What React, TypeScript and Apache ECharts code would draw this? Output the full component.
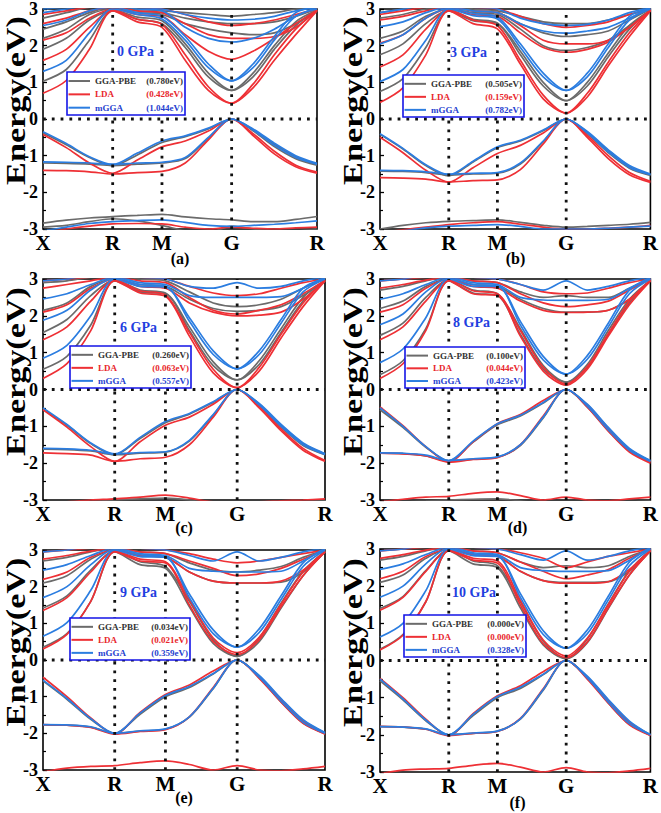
import React, { useEffect, useRef } from "react";
import * as echarts from "echarts";

// k-path distances (X-R-M-G-R) and band energies (eV) sampled on it
const K = [0, 0.236, 0.471, 0.707, 0.957, 1.207, 1.443, 1.678, 1.914, 2.131, 2.347, 2.564, 2.78];
const SYM_K = [0, 0.707, 1.207, 1.914, 2.78];
const SYM_LABELS = ["X", "R", "M", "G", "R"];
const PANEL_TAGS = ["(a)", "(b)", "(c)", "(d)", "(e)", "(f)"];
const PRESSURES = ["0 GPa", "3 GPa", "6 GPa", "8 GPa", "9 GPa", "10 GPa"];
const METHODS = ["GGA-PBE", "LDA", "mGGA"];
const GAP_GGA = ["0.780", "0.505", "0.260", "0.100", "0.034", "0.000"];
const GAP_LDA = ["0.428", "0.159", "0.063", "0.044", "0.021", "0.000"];
const GAP_MGGA = ["1.044", "0.782", "0.557", "0.423", "0.359", "0.328"];

// ---- 0 GPa ----
const P0_GGA = [
  [-0.38, -0.7, -1.05, -1.27, -0.98, -0.64, -0.48, -0.27, 0, -0.32, -0.75, -1.08, -1.26],
  [-1.2, -1.21, -1.23, -1.27, -1.23, -1.2, -1.08, -0.52, 0, -0.29, -0.69, -1.03, -1.24],
  [-2.84, -2.76, -2.7, -2.66, -2.63, -2.6, -2.67, -2.72, -2.75, -2.8, -2.8, -2.74, -2.66],
  [-2.95, -2.9, -2.8, -2.72, -2.78, -2.9, -3.05, -3.1, -2.92, -3.0, -3.05, -3.05, -3.0],
  [1.03, 1.35, 2.15, 2.95, 2.72, 2.6, 1.95, 1.15, 0.78, 1.15, 1.9, 2.55, 2.97],
  [1.9, 2.2, 2.7, 2.97, 2.78, 2.68, 2.05, 1.25, 0.78, 1.25, 2.0, 2.65, 2.97],
  [2.2, 2.45, 2.85, 3.0, 2.9, 2.85, 2.6, 2.45, 2.35, 2.3, 2.35, 2.6, 2.95],
  [2.45, 2.65, 2.9, 3.05, 2.95, 2.9, 2.75, 2.65, 2.6, 2.6, 2.65, 2.8, 3.0],
  [2.75, 2.9, 3.05, 3.1, 3.0, 2.95, 2.9, 2.85, 2.8, 2.85, 2.9, 3.0, 3.05],
];
const P0_LDA = [
  [-0.42, -0.78, -1.2, -1.48, -1.12, -0.76, -0.6, -0.33, 0, -0.45, -0.95, -1.3, -1.48],
  [-1.4, -1.41, -1.44, -1.5, -1.46, -1.43, -1.2, -0.57, 0, -0.4, -0.88, -1.26, -1.45],
  [-3.1, -3.0, -2.92, -2.86, -2.85, -2.86, -2.95, -3.0, -2.95, -2.98, -3.0, -2.97, -2.95],
  [0.7, 1.05, 1.9, 2.95, 2.65, 2.5, 1.6, 0.78, 0.43, 0.85, 1.6, 2.3, 2.95],
  [1.6, 1.9, 2.5, 2.97, 2.72, 2.58, 1.75, 0.88, 0.43, 0.95, 1.75, 2.45, 2.97],
  [2.15, 2.35, 2.75, 3.0, 2.85, 2.8, 2.3, 1.85, 1.63, 1.85, 2.2, 2.6, 2.97],
  [2.6, 2.75, 2.95, 3.05, 2.95, 2.9, 2.6, 2.3, 2.2, 2.2, 2.25, 2.5, 2.97],
  [2.85, 2.95, 3.05, 3.1, 3.05, 3.0, 2.85, 2.65, 2.55, 2.6, 2.7, 2.85, 3.0],
];
const P0_MGGA = [
  [-0.35, -0.67, -1.03, -1.24, -0.93, -0.6, -0.46, -0.25, 0, -0.3, -0.72, -1.05, -1.23],
  [-1.17, -1.18, -1.2, -1.24, -1.2, -1.18, -1.05, -0.5, 0, -0.27, -0.66, -1.0, -1.21],
  [-3.05, -2.95, -2.85, -2.8, -2.77, -2.75, -2.82, -2.9, -2.93, -2.9, -2.87, -2.83, -2.78],
  [1.3, 1.6, 2.35, 3.0, 2.85, 2.73, 2.15, 1.4, 1.04, 1.4, 2.15, 2.8, 3.0],
  [2.55, 2.7, 2.95, 3.05, 2.9, 2.8, 2.25, 1.5, 1.04, 1.5, 2.25, 2.9, 3.05],
  [2.9, 3.0, 3.1, 3.1, 3.0, 2.95, 2.5, 2.2, 2.1, 2.2, 2.45, 2.8, 3.05],
  [3.0, 3.05, 3.1, 3.1, 3.05, 3.0, 2.85, 2.75, 2.7, 2.72, 2.8, 2.95, 3.05],
];

// ---- 3 GPa ----
const P3_GGA = [
  [-0.42, -0.82, -1.27, -1.55, -1.17, -0.78, -0.6, -0.32, 0, -0.4, -0.92, -1.34, -1.54],
  [-1.42, -1.43, -1.46, -1.53, -1.5, -1.48, -1.23, -0.62, 0, -0.36, -0.86, -1.3, -1.52],
  [-3.0, -2.9, -2.83, -2.79, -2.77, -2.75, -2.82, -2.9, -2.95, -2.93, -2.9, -2.87, -2.82],
  [0.75, 1.1, 1.95, 2.95, 2.68, 2.6, 1.75, 0.9, 0.5, 0.9, 1.7, 2.45, 2.97],
  [1.75, 2.05, 2.6, 2.97, 2.72, 2.62, 1.85, 1.0, 0.5, 1.0, 1.8, 2.55, 2.97],
  [2.2, 2.4, 2.8, 3.0, 2.9, 2.85, 2.45, 2.0, 1.87, 1.95, 2.15, 2.55, 2.95],
  [2.75, 2.85, 3.0, 3.05, 2.95, 2.9, 2.6, 2.35, 2.25, 2.3, 2.4, 2.7, 3.0],
  [2.9, 3.0, 3.1, 3.1, 3.0, 2.95, 2.8, 2.65, 2.6, 2.6, 2.7, 2.85, 3.0],
];
const P3_LDA = [
  [-0.5, -0.92, -1.4, -1.72, -1.33, -0.94, -0.72, -0.38, 0, -0.5, -1.08, -1.52, -1.73],
  [-1.6, -1.61, -1.64, -1.72, -1.68, -1.66, -1.38, -0.68, 0, -0.45, -1.0, -1.46, -1.7],
  [-3.1, -3.02, -2.95, -2.88, -2.83, -2.8, -2.87, -2.95, -3.0, -3.0, -2.98, -2.95, -2.9],
  [0.45, 0.85, 1.75, 2.95, 2.6, 2.46, 1.5, 0.55, 0.16, 0.6, 1.45, 2.25, 2.95],
  [1.42, 1.75, 2.45, 2.97, 2.7, 2.55, 1.6, 0.65, 0.16, 0.7, 1.55, 2.35, 2.97],
  [2.07, 2.3, 2.75, 3.0, 2.85, 2.8, 2.35, 1.95, 1.82, 1.9, 2.1, 2.5, 2.97],
  [2.7, 2.8, 2.95, 3.05, 2.95, 2.9, 2.55, 2.15, 2.05, 2.05, 2.15, 2.5, 2.97],
  [2.85, 2.95, 3.05, 3.1, 3.05, 3.0, 2.8, 2.6, 2.5, 2.55, 2.65, 2.85, 3.0],
];
const P3_MGGA = [
  [-0.4, -0.8, -1.25, -1.52, -1.15, -0.76, -0.58, -0.3, 0, -0.38, -0.9, -1.32, -1.52],
  [-1.4, -1.41, -1.44, -1.5, -1.48, -1.46, -1.2, -0.6, 0, -0.34, -0.84, -1.27, -1.5],
  [-3.1, -3.05, -2.97, -2.92, -2.9, -2.88, -2.93, -3.0, -3.0, -3.0, -2.98, -2.95, -2.92],
  [1.02, 1.35, 2.15, 3.0, 2.82, 2.73, 1.95, 1.15, 0.78, 1.15, 1.95, 2.7, 3.0],
  [2.05, 2.3, 2.75, 3.02, 2.88, 2.78, 2.05, 1.25, 0.78, 1.25, 2.05, 2.8, 3.02],
  [2.52, 2.65, 2.9, 3.05, 2.95, 2.9, 2.6, 2.4, 2.34, 2.4, 2.5, 2.75, 3.05],
  [2.9, 3.0, 3.1, 3.1, 3.05, 3.0, 2.75, 2.6, 2.55, 2.58, 2.7, 2.9, 3.05],
];

// ---- 6 GPa ----
const P6_GGA = [
  [-0.52, -0.97, -1.47, -1.77, -1.33, -0.9, -0.67, -0.35, 0, -0.44, -1.02, -1.52, -1.77],
  [-1.62, -1.63, -1.67, -1.77, -1.73, -1.7, -1.4, -0.7, 0, -0.4, -0.97, -1.47, -1.75],
  [-3.15, -3.1, -3.05, -3.0, -2.97, -2.95, -3.0, -3.1, -3.1, -3.1, -3.1, -3.05, -3.02],
  [0.55, 0.9, 1.75, 2.95, 2.65, 2.6, 1.6, 0.65, 0.26, 0.68, 1.55, 2.4, 2.97],
  [1.55, 1.9, 2.55, 2.97, 2.7, 2.62, 1.7, 0.75, 0.26, 0.78, 1.65, 2.5, 2.97],
  [2.15, 2.35, 2.8, 3.0, 2.85, 2.8, 2.45, 2.2, 2.12, 2.15, 2.25, 2.55, 2.95],
  [2.9, 2.95, 3.05, 3.1, 3.0, 2.95, 2.65, 2.35, 2.25, 2.3, 2.45, 2.75, 3.0],
];
const P6_LDA = [
  [-0.55, -1.02, -1.55, -1.95, -1.42, -0.97, -0.75, -0.4, 0, -0.5, -1.12, -1.65, -1.95],
  [-1.72, -1.74, -1.78, -1.95, -1.88, -1.84, -1.5, -0.75, 0, -0.46, -1.07, -1.6, -1.93],
  [-3.1, -3.05, -3.0, -2.97, -2.92, -2.87, -2.95, -3.05, -3.05, -3.05, -3.02, -3.0, -2.97],
  [0.3, 0.7, 1.6, 2.95, 2.62, 2.53, 1.45, 0.45, 0.05, 0.5, 1.4, 2.25, 2.95],
  [1.35, 1.7, 2.4, 2.97, 2.68, 2.57, 1.55, 0.55, 0.05, 0.6, 1.5, 2.35, 2.97],
  [2.1, 2.3, 2.75, 3.0, 2.8, 2.75, 2.35, 2.1, 2.0, 2.02, 2.1, 2.45, 2.95],
  [2.75, 2.85, 2.95, 3.05, 2.95, 2.9, 2.5, 2.15, 2.05, 2.15, 2.3, 2.6, 2.97],
  [2.95, 3.0, 3.05, 3.1, 3.05, 3.0, 2.8, 2.62, 2.55, 2.6, 2.75, 2.9, 3.0],
];
const P6_MGGA = [
  [-0.5, -0.95, -1.45, -1.75, -1.3, -0.87, -0.65, -0.33, 0, -0.42, -1.0, -1.5, -1.76],
  [-1.6, -1.61, -1.65, -1.75, -1.71, -1.69, -1.38, -0.68, 0, -0.38, -0.95, -1.45, -1.74],
  [0.85, 1.2, 2.0, 3.0, 2.8, 2.78, 1.85, 0.95, 0.56, 0.95, 1.8, 2.65, 3.0],
  [1.88, 2.15, 2.7, 3.02, 2.85, 2.8, 1.95, 1.05, 0.56, 1.05, 1.9, 2.75, 3.02],
  [2.46, 2.6, 2.85, 3.05, 2.9, 2.85, 2.55, 2.5, 2.5, 2.5, 2.52, 2.75, 3.05],
  [2.95, 3.0, 3.1, 3.1, 3.05, 3.0, 2.8, 2.75, 2.9, 2.75, 2.8, 2.95, 3.05],
];

// ---- 8 GPa ----
const P8_GGA = [
  [-0.55, -1.03, -1.57, -1.94, -1.43, -0.96, -0.72, -0.37, 0, -0.47, -1.12, -1.67, -1.96],
  [-1.73, -1.74, -1.8, -1.94, -1.89, -1.84, -1.52, -0.77, 0, -0.42, -1.05, -1.62, -1.94],
  [-3.1, -3.06, -3.03, -3.0, -2.98, -2.97, -3.02, -3.1, -3.05, -3.1, -3.1, -3.06, -3.03],
  [0.4, 0.78, 1.65, 2.95, 2.62, 2.55, 1.5, 0.55, 0.2, 0.6, 1.5, 2.35, 2.97],
  [1.47, 1.8, 2.5, 2.97, 2.7, 2.6, 1.65, 0.65, 0.2, 0.68, 1.6, 2.45, 2.97],
  [2.2, 2.4, 2.8, 3.0, 2.85, 2.8, 2.45, 2.2, 2.1, 2.1, 2.15, 2.45, 2.95],
  [2.7, 2.8, 2.95, 3.05, 2.95, 2.9, 2.65, 2.5, 2.55, 2.5, 2.5, 2.75, 3.0],
];
const P8_LDA = [
  [-0.47, -0.98, -1.55, -1.97, -1.42, -0.93, -0.68, -0.3, 0, -0.48, -1.13, -1.7, -2.0],
  [-1.73, -1.75, -1.8, -1.97, -1.9, -1.85, -1.5, -0.72, 0, -0.42, -1.07, -1.65, -1.97],
  [-3.05, -2.98, -2.92, -2.9, -2.82, -2.78, -2.88, -3.0, -2.92, -3.0, -3.02, -2.97, -2.92],
  [0.3, 0.7, 1.6, 2.95, 2.6, 2.55, 1.45, 0.5, 0.12, 0.55, 1.45, 2.3, 2.95],
  [1.35, 1.7, 2.4, 2.97, 2.68, 2.6, 1.6, 0.6, 0.15, 0.62, 1.52, 2.4, 2.97],
  [2.1, 2.3, 2.75, 3.0, 2.8, 2.75, 2.4, 2.15, 2.09, 2.1, 2.15, 2.45, 2.95],
  [2.75, 2.85, 2.97, 3.05, 2.95, 2.9, 2.6, 2.35, 2.25, 2.3, 2.4, 2.7, 3.0],
  [2.95, 3.0, 3.05, 3.1, 3.05, 3.0, 2.85, 2.65, 2.6, 2.62, 2.75, 2.9, 3.0],
];
const P8_MGGA = [
  [-0.5, -1.0, -1.55, -1.93, -1.4, -0.93, -0.7, -0.35, 0, -0.45, -1.1, -1.65, -1.95],
  [-1.72, -1.73, -1.78, -1.93, -1.88, -1.83, -1.5, -0.75, 0, -0.4, -1.03, -1.6, -1.93],
  [0.73, 1.1, 1.95, 3.0, 2.8, 2.8, 1.75, 0.8, 0.42, 0.82, 1.7, 2.6, 3.0],
  [1.76, 2.05, 2.65, 3.02, 2.85, 2.82, 1.85, 0.9, 0.42, 0.92, 1.8, 2.7, 3.02],
  [2.45, 2.6, 2.85, 3.05, 2.9, 2.85, 2.5, 2.43, 2.42, 2.42, 2.45, 2.75, 3.05],
  [2.95, 3.0, 3.1, 3.1, 3.05, 3.0, 2.85, 2.7, 2.95, 2.7, 2.8, 2.95, 3.05],
];

// ---- 9 GPa ----
const P9_GGA = [
  [-0.57, -1.07, -1.62, -2.0, -1.48, -1.0, -0.75, -0.38, 0, -0.48, -1.14, -1.72, -2.0],
  [-1.77, -1.78, -1.83, -2.0, -1.94, -1.89, -1.56, -0.78, 0, -0.44, -1.07, -1.65, -1.99],
  [0.35, 0.72, 1.6, 2.95, 2.6, 2.5, 1.45, 0.45, 0.1, 0.5, 1.42, 2.3, 2.97],
  [1.42, 1.75, 2.45, 2.97, 2.68, 2.55, 1.6, 0.55, 0.1, 0.6, 1.55, 2.42, 2.97],
  [2.1, 2.3, 2.75, 3.0, 2.85, 2.8, 2.4, 2.15, 2.1, 2.1, 2.12, 2.4, 2.95],
  [2.7, 2.8, 2.95, 3.05, 2.95, 2.9, 2.65, 2.45, 2.4, 2.45, 2.55, 2.8, 3.0],
];
const P9_LDA = [
  [-0.47, -1.0, -1.58, -2.02, -1.43, -0.94, -0.68, -0.3, 0, -0.5, -1.15, -1.73, -2.02],
  [-1.76, -1.78, -1.84, -2.02, -1.95, -1.9, -1.55, -0.75, 0, -0.45, -1.08, -1.68, -2.02],
  [-3.05, -2.95, -2.9, -2.88, -2.8, -2.75, -2.85, -3.0, -2.88, -3.0, -3.02, -2.97, -2.9],
  [0.3, 0.7, 1.6, 2.95, 2.7, 2.65, 1.5, 0.5, 0.15, 0.55, 1.45, 2.3, 2.95],
  [1.35, 1.7, 2.4, 2.97, 2.75, 2.68, 1.65, 0.6, 0.2, 0.62, 1.52, 2.4, 2.97],
  [2.2, 2.4, 2.8, 3.0, 2.85, 2.8, 2.4, 2.15, 2.1, 2.1, 2.15, 2.45, 2.95],
  [2.75, 2.85, 2.97, 3.05, 2.95, 2.9, 2.7, 2.5, 2.3, 2.35, 2.5, 2.75, 3.0],
  [2.95, 3.0, 3.05, 3.1, 3.05, 3.0, 2.9, 2.75, 2.65, 2.7, 2.8, 2.9, 3.0],
];
const P9_MGGA = [
  [-0.55, -1.05, -1.6, -2.0, -1.45, -0.97, -0.72, -0.37, 0, -0.47, -1.12, -1.7, -2.0],
  [-1.76, -1.77, -1.82, -2.0, -1.93, -1.88, -1.55, -0.77, 0, -0.42, -1.05, -1.63, -1.98],
  [0.65, 1.02, 1.9, 3.0, 2.82, 2.8, 1.7, 0.72, 0.35, 0.75, 1.65, 2.55, 3.0],
  [1.7, 2.0, 2.6, 3.02, 2.87, 2.82, 1.8, 0.82, 0.35, 0.85, 1.75, 2.65, 3.02],
  [2.45, 2.6, 2.85, 3.05, 2.9, 2.85, 2.5, 2.42, 2.4, 2.4, 2.42, 2.7, 3.05],
  [2.95, 3.0, 3.1, 3.1, 3.05, 3.0, 2.85, 2.7, 2.95, 2.7, 2.8, 2.95, 3.05],
];

// ---- 10 GPa ----
const P10_GGA = [
  [-0.55, -1.06, -1.62, -2.0, -1.48, -1.0, -0.75, -0.38, 0, -0.48, -1.14, -1.72, -2.0],
  [-1.78, -1.79, -1.85, -2.0, -1.96, -1.9, -1.58, -0.8, 0, -0.44, -1.07, -1.65, -2.0],
  [0.3, 0.7, 1.58, 2.95, 2.6, 2.5, 1.42, 0.42, 0.05, 0.48, 1.4, 2.3, 2.97],
  [1.4, 1.72, 2.42, 2.97, 2.68, 2.55, 1.58, 0.52, 0.05, 0.58, 1.52, 2.42, 2.97],
  [2.1, 2.3, 2.75, 3.0, 2.85, 2.8, 2.4, 2.15, 2.1, 2.1, 2.12, 2.4, 2.95],
  [2.7, 2.8, 2.95, 3.05, 2.95, 2.9, 2.65, 2.5, 2.55, 2.5, 2.55, 2.8, 3.0],
];
const P10_LDA = [
  [-0.48, -1.0, -1.58, -2.02, -1.43, -0.95, -0.68, -0.3, 0, -0.5, -1.15, -1.73, -2.02],
  [-1.77, -1.79, -1.85, -2.02, -1.96, -1.91, -1.56, -0.76, 0, -0.45, -1.08, -1.68, -2.02],
  [-3.05, -2.95, -2.92, -2.9, -2.82, -2.77, -2.87, -3.0, -2.88, -3.0, -3.02, -2.97, -2.9],
  [0.28, 0.68, 1.58, 2.95, 2.7, 2.62, 1.5, 0.45, 0.08, 0.5, 1.42, 2.3, 2.95],
  [1.35, 1.7, 2.4, 2.97, 2.75, 2.68, 1.62, 0.55, 0.12, 0.6, 1.5, 2.4, 2.97],
  [2.2, 2.4, 2.8, 3.0, 2.85, 2.8, 2.4, 2.15, 2.08, 2.08, 2.12, 2.45, 2.95],
  [2.75, 2.85, 2.97, 3.05, 2.95, 2.9, 2.65, 2.4, 2.2, 2.3, 2.45, 2.75, 3.0],
  [2.95, 3.0, 3.05, 3.1, 3.05, 3.0, 2.9, 2.75, 2.5, 2.65, 2.8, 2.9, 3.0],
];
const P10_MGGA = [
  [-0.5, -1.03, -1.6, -2.0, -1.45, -0.97, -0.72, -0.37, 0, -0.47, -1.12, -1.7, -2.0],
  [-1.78, -1.79, -1.84, -2.0, -1.95, -1.9, -1.57, -0.78, 0, -0.42, -1.05, -1.63, -2.0],
  [0.63, 1.0, 1.88, 3.0, 2.82, 2.8, 1.7, 0.7, 0.33, 0.72, 1.63, 2.55, 3.0],
  [1.7, 2.0, 2.6, 3.02, 2.87, 2.82, 1.8, 0.8, 0.33, 0.82, 1.73, 2.65, 3.02],
  [2.45, 2.6, 2.85, 3.05, 2.9, 2.85, 2.5, 2.42, 2.4, 2.4, 2.42, 2.7, 3.05],
  [2.95, 3.0, 3.1, 3.1, 3.05, 3.0, 2.85, 2.7, 2.95, 2.7, 2.8, 2.95, 3.05],
];

const BANDS = [
  [P0_GGA, P0_LDA, P0_MGGA],
  [P3_GGA, P3_LDA, P3_MGGA],
  [P6_GGA, P6_LDA, P6_MGGA],
  [P8_GGA, P8_LDA, P8_MGGA],
  [P9_GGA, P9_LDA, P9_MGGA],
  [P10_GGA, P10_LDA, P10_MGGA],
];

// ---- presentation ----
const FONT = '"Liberation Serif", "Times New Roman", serif';
const LINE_COLORS = ["#6b6b6b", "#ee3035", "#2b7de0"];
const TEXT_COLORS = ["#333333", "#e8262b", "#1f3fcf"];
const LAYOUT = [
  { grid: [43, 8, 274, 221], box: [67, 72, 118, 43], press: [117, 51], tagY: 258 },
  { grid: [380, 8, 271, 221], box: [403, 75, 121, 42], press: [450, 52], tagY: 258 },
  { grid: [43, 279, 282, 221], box: [70, 346, 121, 42], press: [120, 327], tagY: 527 },
  { grid: [380, 279, 275, 221], box: [405, 347, 120, 41], press: [453, 322], tagY: 527 },
  { grid: [43, 550, 282, 220], box: [70, 618, 120, 42], press: [120, 592], tagY: 797 },
  { grid: [380, 549, 275, 223], box: [404, 615, 122, 42], press: [452, 592], tagY: 802 },
];

function buildOption() {
  const grids: any[] = [];
  const xAxes: any[] = [];
  const yAxes: any[] = [];
  const series: any[] = [];
  const graphics: any[] = [];

  LAYOUT.forEach((L, i) => {
    const [gl, gt, gw, gh] = L.grid;
    grids.push({
      left: gl, top: gt, width: gw, height: gh,
      show: true, borderColor: "#000", borderWidth: 1.6, backgroundColor: "transparent",
    });
    xAxes.push({
      type: "value", gridIndex: i, min: 0, max: K[K.length - 1],
      axisLine: { show: false }, axisTick: { show: false }, splitLine: { show: false },
      axisLabel: {
        customValues: SYM_K, showMinLabel: true, showMaxLabel: true, margin: 3,
        formatter: (v: number) => {
          let best = 0;
          SYM_K.forEach((s, j) => { if (Math.abs(s - v) < Math.abs(SYM_K[best] - v)) best = j; });
          return SYM_LABELS[best];
        },
        color: "#000", fontFamily: FONT, fontWeight: "bold", fontSize: 21,
      },
    });
    yAxes.push({
      type: "value", gridIndex: i, min: -3, max: 3, interval: 1,
      axisLine: { show: false },
      axisTick: { show: true, inside: true, length: 4, lineStyle: { color: "#000", width: 1.3 } },
      minorTick: { show: true, splitNumber: 2, length: 3, lineStyle: { color: "#000", width: 1.2 } },
      splitLine: { show: false },
      axisLabel: { color: "#000", fontFamily: FONT, fontWeight: "bold", fontSize: 18, margin: 5 },
    });

    BANDS[i].forEach((set, f) => {
      set.forEach((band) => {
        series.push({
          type: "line", xAxisIndex: i, yAxisIndex: i, showSymbol: false, symbol: "none",
          smooth: 0.3, clip: true, silent: true, z: 2 + f * 0.1,
          lineStyle: { color: LINE_COLORS[f], width: 1.7 },
          data: K.map((k, j) => [k, band[j]]),
        });
      });
    });

    [SYM_K[1], SYM_K[2], SYM_K[3]].forEach((k) => {
      series.push({
        type: "line", xAxisIndex: i, yAxisIndex: i, symbol: "none", silent: true, z: 4,
        lineStyle: { color: "#111", width: 2.8, type: [2.8, 6] },
        data: [[k, -3], [k, 3]],
      });
    });
    series.push({
      type: "line", xAxisIndex: i, yAxisIndex: i, symbol: "none", silent: true, z: 4,
      lineStyle: { color: "#111", width: 2.8, type: [2.8, 6] },
      data: [[0, 0], [K[K.length - 1], 0]],
    });

    // y axis title
    graphics.push({
      type: "text", x: gl - 27, y: gt + gh / 2 - 18, rotation: Math.PI / 2, scaleX: 1.22, z: 1,
      style: {
        text: "Energy(eV)", font: `bold 28px ${FONT}`, fill: "#000",
        align: "center", verticalAlign: "middle", textAlign: "center", textVerticalAlign: "middle",
      },
    });
    // panel tag
    graphics.push({
      type: "text", x: gl + gw / 2, y: L.tagY, z: 100,
      style: {
        text: PANEL_TAGS[i], font: `bold 16px ${FONT}`, fill: "#000",
        align: "center", verticalAlign: "middle", textAlign: "center", textVerticalAlign: "middle",
      },
    });
    // pressure
    graphics.push({
      type: "text", x: L.press[0], y: L.press[1], z: 100,
      style: {
        text: PRESSURES[i], font: `bold 14px ${FONT}`, fill: "#1f3fe0",
        align: "left", verticalAlign: "middle", textAlign: "left", textVerticalAlign: "middle",
      },
    });
    // legend box
    const [bx, by, bw, bh] = L.box;
    const gaps = [GAP_GGA[i], GAP_LDA[i], GAP_MGGA[i]];
    graphics.push({
      type: "rect", x: bx, y: by, z: 100, shape: { x: 0, y: 0, width: bw, height: bh },
      style: { fill: "#fff", stroke: "#1515e6", lineWidth: 1.6 },
    });
    const rowY = [bh * 0.21, bh * 0.52, bh * 0.83];
    METHODS.forEach((m, f) => {
      graphics.push({
        type: "line", x: bx, y: by, z: 101, shape: { x1: 1.5, y1: rowY[f], x2: 23, y2: rowY[f] },
        style: { stroke: LINE_COLORS[f], lineWidth: 2 },
      });
      graphics.push({
        type: "text", x: bx + 28, y: by + rowY[f], z: 101,
        style: { text: m, font: `bold 9px ${FONT}`, fill: TEXT_COLORS[f], align: "left", verticalAlign: "middle", textAlign: "left", textVerticalAlign: "middle" },
      });
      graphics.push({
        type: "text", x: bx + bw - 2, y: by + rowY[f], z: 101,
        style: { text: `(${gaps[f]}eV)`, font: `bold 9px ${FONT}`, fill: TEXT_COLORS[f], align: "right", verticalAlign: "middle", textAlign: "right", textVerticalAlign: "middle" },
      });
    });
  });

  return {
    animation: false,
    backgroundColor: "#fff",
    grid: grids,
    xAxis: xAxes,
    yAxis: yAxes,
    series,
    graphic: { elements: graphics },
  };
}

export default function App() {
  const ref = useRef<HTMLDivElement>(null);
  useEffect(() => {
    if (!ref.current) return;
    const chart = echarts.init(ref.current, undefined, { renderer: "svg" });
    chart.setOption(buildOption());
    return () => chart.dispose();
  }, []);
  return (
    <div
      ref={ref}
      style={{ position: "absolute", left: 0, top: 0, width: 661, height: 813, background: "#fff" }}
    />
  );
}
